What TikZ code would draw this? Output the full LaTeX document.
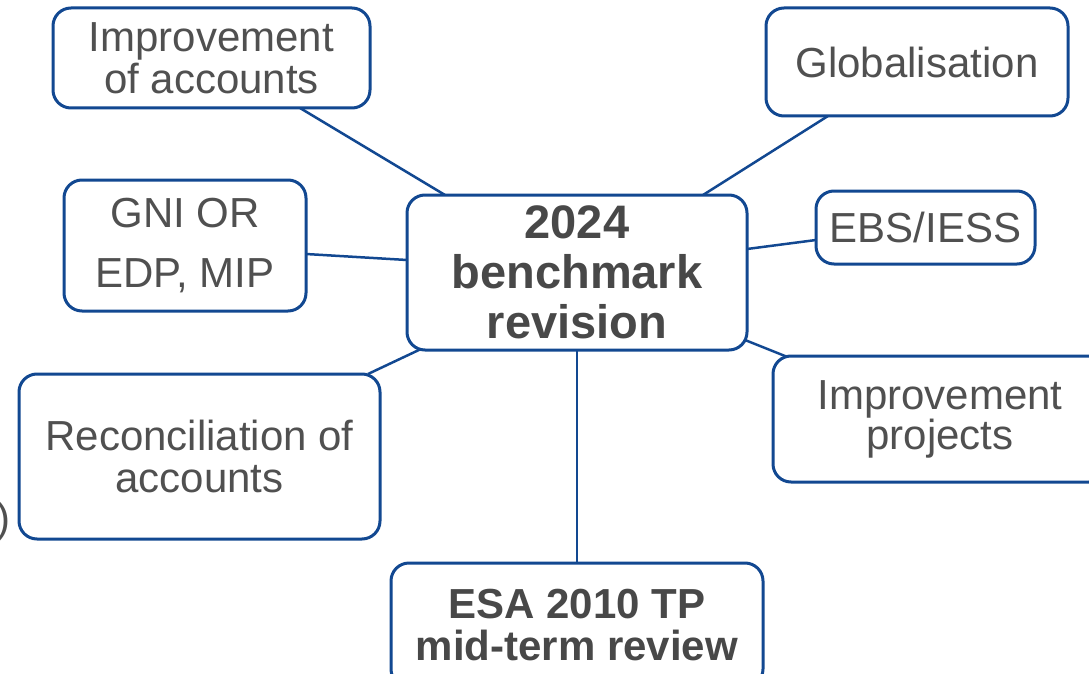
\documentclass[tikz,border=0pt]{standalone}
\usepackage{fontspec}
\setmainfont{Liberation Sans}
\usetikzlibrary{calc}
\definecolor{bdr}{RGB}{18,72,145}
\definecolor{txt}{RGB}{80,80,80}
\definecolor{txtb}{RGB}{72,72,72}
\tikzset{
  box/.style={draw=bdr, line width=3pt, rounded corners=18pt, fill=white,
    align=center, inner sep=0pt, text=txt,
    font=\fontsize{42}{42}\selectfont},
  boldbox/.style={box, text=txtb, font=\fontsize{47}{50}\selectfont\bfseries},
  conn/.style={draw=bdr, line width=2.5pt}
}
\begin{document}
\begin{tikzpicture}[x=1pt,y=-1pt]
\useasboundingbox (0,0) rectangle (1089,674);
\begin{scope}
\clip (0,0) rectangle (1089,674);
% connectors first
\coordinate (c1a) at (300,108);  \coordinate (c1b) at (445,195);
\coordinate (c2a) at (828,116);  \coordinate (c2b) at (703,195);
\coordinate (c3a) at (306,254);  \coordinate (c3b) at (407,260);
\coordinate (c5a) at (816,240);  \coordinate (c5b) at (747,249);
\coordinate (c6a) at (790,358);  \coordinate (c6b) at (745,340);
\coordinate (c7a) at (368,374);  \coordinate (c7b) at (421,349);
\coordinate (c8a) at (577,563);  \coordinate (c8b) at (577,350);
\draw[conn] (c1a) -- (c1b);
\draw[conn] (c2a) -- (c2b);
\draw[conn] (c3a) -- (c3b);
\draw[conn] (c5a) -- (c5b);
\draw[conn] (c6a) -- (c6b);
\draw[conn] (c7a) -- (c7b);
\draw[conn] (c8a) -- (c8b);

\node[box, minimum width=317pt, minimum height=100pt] (imp) at (211.5,58) {Improvement\\of accounts};
\node[box, minimum width=302pt, minimum height=108pt] (glob) at (917,62) {Globalisation};
\node[box, font=\fontsize{42}{60}\selectfont, minimum width=242pt, minimum height=131pt] (gni) at (185,245.5) {GNI OR\\EDP, MIP};
\node[boldbox, minimum width=340pt, minimum height=155pt] (center) at (577,272.5) {2024\\benchmark\\revision};
\node[box, minimum width=219pt, minimum height=73pt] (ebs) at (925.5,227.5) {EBS/IESS};
\node[box, font=\fontsize{42}{40}\selectfont, minimum width=334pt, minimum height=126pt] (proj) at (940,419) {Improvement\\projects};
\node[box, minimum width=361pt, minimum height=165pt] (rec) at (199.5,456.5) {Reconciliation of\\accounts};
\node[boldbox, font=\fontsize{42}{42}\selectfont\bfseries, minimum width=372pt, minimum height=124pt] (esa) at (577,625) {ESA 2010 TP\\mid-term review};
\node[text=txt, font=\fontsize{42}{42}\selectfont, anchor=east, inner sep=0pt] (paren) at (11,522) {)};
\end{scope}
\end{tikzpicture}
\end{document}
